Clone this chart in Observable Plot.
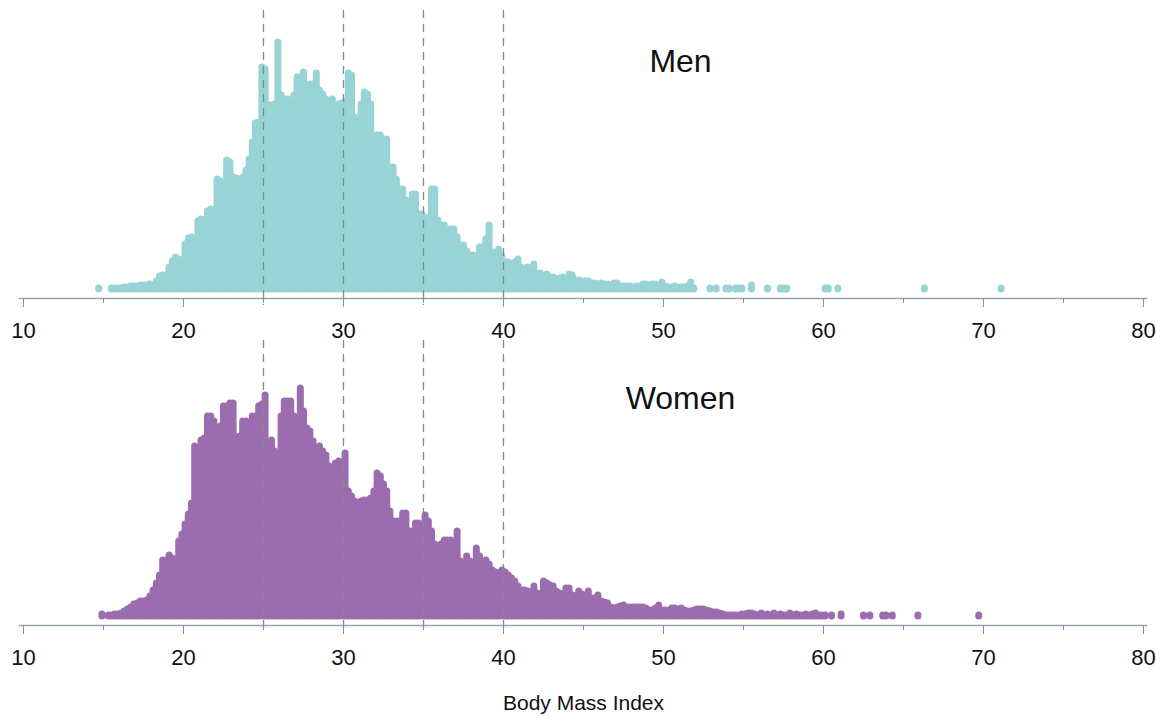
<!DOCTYPE html>
<html>
<head>
<meta charset="utf-8">
<script src="https://cdn.jsdelivr.net/npm/d3@7"></script>
<script src="https://cdn.jsdelivr.net/npm/@observablehq/plot@0.6"></script>
<style>
  body { margin: 0; background: #ffffff; font-family: "Liberation Sans", Arial, sans-serif; }
  #chart svg { display: block; }
</style>
</head>
<body>
<div id="chart"></div>
<script>
// Histogram bins: BMI bin centres start at 14.7, width 0.2 (null = empty bin)
const binStart = 14.7;
const binWidth = 0.2;

const menCounts = [
  1, null, null, null, 1, 1, 1, 1, 2, 2,            // 14.7 - 16.5
  3, 3, 3, 4, 4, 4, 5, 4, 8, 13,                    // 16.7 - 18.5
  14, 14, 22, 28, 32, 30, 20, 45, 51, 52,           // 18.7 - 20.5
  50, 68, 70, 58, 78, 80, 78, 110, 108, 92,         // 20.7 - 22.5
  129, 127, 112, 111, 104, 112, 119, 130, 147, 166, // 22.7 - 24.5
  167, 222, 220, 184, 184, 185, 247, 194, 190, 190, // 24.7 - 26.5
  188, 194, 212, 212, 217, 200, 205, 205, 216, 199, // 26.7 - 28.5
  195, 190, 184, 190, 159, 185, 186, 188, 216, 214, // 28.7 - 30.5
  172, 157, 185, 197, 195, 185, 145, 154, 154, 150, // 30.7 - 32.5
  150, 122, 122, 110, 100, 100, 89, 87, 95, 95,     // 32.7 - 34.5
  75, 75, 70, 72, 100, 100, 69, 64, 64, 57,         // 34.7 - 36.5
  60, 60, 52, 44, 44, 38, 34, 34, 24, 42,           // 36.7 - 38.5
  42, 50, 64, 37, 37, 40, 33, 27, 27, 25,           // 38.7 - 40.5
  27, 30, 22, 19, 22, 20, 25, 14, 16, 13,           // 40.7 - 42.5
  15, 12, 12, 10, 11, 12, 10, 15, 14, 9,            // 42.7 - 44.5
  9, 8, 8, 8, 6, 6, 5, 6, 5, 5,                     // 44.7 - 46.5
  4, 6, 6, 3, 3, 3, 3, 2, 3, 3,                     // 46.7 - 48.5
  5, 5, 4, 5, 5, 3, 7, 3, 2, 2,                     // 48.7 - 50.5
  3, 2, 2, 2, 3, 7, 1, null, null, null,            // 50.7 - 52.5
  null, 1, null, 1, null, null, 1, 1, null, 1,      // 52.7 - 54.5
  1, 1, null, null, 4, null, null, null, null, 1,   // 54.7 - 56.5
  null, null, null, 1, 1, 1, null, null, null, null,// 56.7 - 58.5
  null, null, null, null, null, null, null, 1, 1, null, // 58.7 - 60.5
  null, 1, null, null, null, null, null, null, null, null, // 60.7 - 62.5
  null, null, null, null, null, null, null, null, null, null, // 62.7 - 64.5
  null, null, null, null, null, null, null, null, 1, null,    // 64.7 - 66.5
  null, null, null, null, null, null, null, null, null, null, // 66.7 - 68.5
  null, null, null, null, null, null, null, null, null, null, // 68.7 - 70.5
  null, null, 1                                      // 70.7 - 71.1
];

const womenCounts = [
  null, 2, null, 1, 1, 2, 2, 3, 5, 7,               // 14.7 - 16.5
  9, 12, 13, 15, 15, 16, 20, 26, 33, 41,            // 16.7 - 18.5
  56, 56, 61, 58, 50, 75, 82, 92, 102, 113,         // 18.7 - 20.5
  170, 156, 176, 178, 200, 200, 195, 186, 190, 210, // 20.7 - 22.5
  210, 213, 213, 176, 180, 195, 195, 178, 200, 200, // 22.7 - 24.5
  210, 212, 221, 171, 176, 165, 153, 200, 215, 215, // 24.7 - 26.5
  215, 200, 195, 228, 205, 188, 185, 175, 166, 170, // 26.7 - 28.5
  165, 161, 150, 145, 153, 155, 153, 163, 125, 120, // 28.7 - 30.5
  115, 113, 115, 116, 116, 118, 125, 143, 140, 132, // 30.7 - 32.5
  125, 105, 95, 95, 95, 103, 103, 85, 85, 93,       // 32.7 - 34.5
  93, 90, 101, 95, 85, 72, 70, 72, 76, 76,          // 34.7 - 36.5
  76, 65, 85, 55, 50, 60, 55, 53, 68, 60,           // 36.7 - 38.5
  53, 56, 52, 46, 44, 43, 46, 44, 41, 38,           // 38.7 - 40.5
  35, 30, 26, 26, 25, 24, 30, 23, 22, 35,           // 40.7 - 42.5
  33, 31, 30, 25, 23, 22, 28, 28, 21, 20,           // 42.7 - 44.5
  25, 22, 18, 25, 18, 18, 21, 15, 14, 13,           // 44.7 - 46.5
  9, 8, 9, 10, 11, 9, 9, 9, 9, 9,                   // 46.7 - 48.5
  9, 8, 6, 6, 8, 11, 6, 6, 5, 8,                    // 48.7 - 50.5
  8, 7, 8, 6, 5, 5, 6, 7, 7, 7,                     // 50.7 - 52.5
  6, 5, 4, 4, 3, 2, 1, 1, 1, 1,                     // 52.7 - 54.5
  1, 2, 2, 3, 3, 2, 1, 3, 1, 2,                     // 54.7 - 56.5
  1, 3, 1, 2, 1, 1, 3, 1, 2, 1,                     // 56.7 - 58.5
  1, 2, 1, 2, 3, 1, 1, 1, null, 1,                  // 58.7 - 60.5
  null, null, 2, null, null, null, null, null, null, 1,       // 60.7 - 62.5
  null, 1, null, null, null, 1, 1, null, 1, null,             // 62.7 - 64.5
  null, null, null, null, null, null, 1, null, null, null,    // 64.7 - 66.5
  null, null, null, null, null, null, null, null, null, null, // 66.7 - 68.5
  null, null, null, null, null, 1                             // 68.7 - 69.7
];

const cutoffs = [25, 30, 35, 40];
const majorTicks = [10, 20, 30, 40, 50, 60, 70, 80];
const minorTicks = [15, 25, 35, 45, 55, 65, 75];
const menColor = "#98d4d5";
const womenColor = "#9b6daf";
const xLabel = "Body Mass Index";

function toBins(counts) {
  return counts
    .map((c, i) => ({ bmi: +(binStart + i * binWidth).toFixed(1), count: c }))
    .filter(d => d.count != null);
}

const font = "'Liberation Sans', Arial, Helvetica, sans-serif";

function panel({ counts, color, title, height, marginTop, marginBottom, titleDy, dashTop, dashBottom, caption }) {
  const marks = [
    Plot.ruleX(toBins(counts), {
      x: "bmi", y1: 0, y2: "count",
      stroke: color, strokeWidth: 7, strokeLinecap: "round"
    }),
    Plot.ruleX(cutoffs, {
      stroke: "#85898e", strokeWidth: 1.3, strokeDasharray: "8,6",
      insetTop: dashTop, insetBottom: dashBottom
    }),
    Plot.frame({ anchor: "bottom", stroke: "#97a3ad", strokeWidth: 1.5, insetLeft: -4, insetRight: -3 }),
    Plot.axisX(minorTicks, { tickSize: 5, text: null, stroke: "#8a8f94", label: null }),
    Plot.axisX(majorTicks, {
      tickSize: 9, tickPadding: 15, fontSize: 22, stroke: "#8a8f94", fill: "#111",
      tickFormat: d => String(d), label: null
    }),
    Plot.text([title], { frameAnchor: "top", lineAnchor: "middle", dx: 97, dy: titleDy, fontSize: 32, fill: "#111" })
  ];
  if (caption) {
    marks.push(Plot.text([caption], { frameAnchor: "bottom", lineAnchor: "middle", dy: 78, fontSize: 21, fill: "#111" }));
  }
  return Plot.plot({
    width: 1156,
    height,
    marginLeft: 23,
    marginRight: 13,
    marginTop,
    marginBottom,
    x: { domain: [10, 80], axis: null },
    y: { domain: [-9, 250], axis: null },
    style: { fontFamily: font, background: "transparent", overflow: "visible", color: "#111" },
    marks
  });
}

const chart = document.getElementById("chart");
chart.appendChild(panel({
  counts: menCounts, color: menColor, title: "Men",
  height: 340, marginTop: 39, marginBottom: 42, titleDy: 22,
  dashTop: -29, dashBottom: -7
}));
chart.appendChild(panel({
  counts: womenCounts, color: womenColor, title: "Women",
  height: 376, marginTop: 26, marginBottom: 91, titleDy: 32,
  dashTop: -26, dashBottom: -6, caption: xLabel
}));
</script>
</body>
</html>
